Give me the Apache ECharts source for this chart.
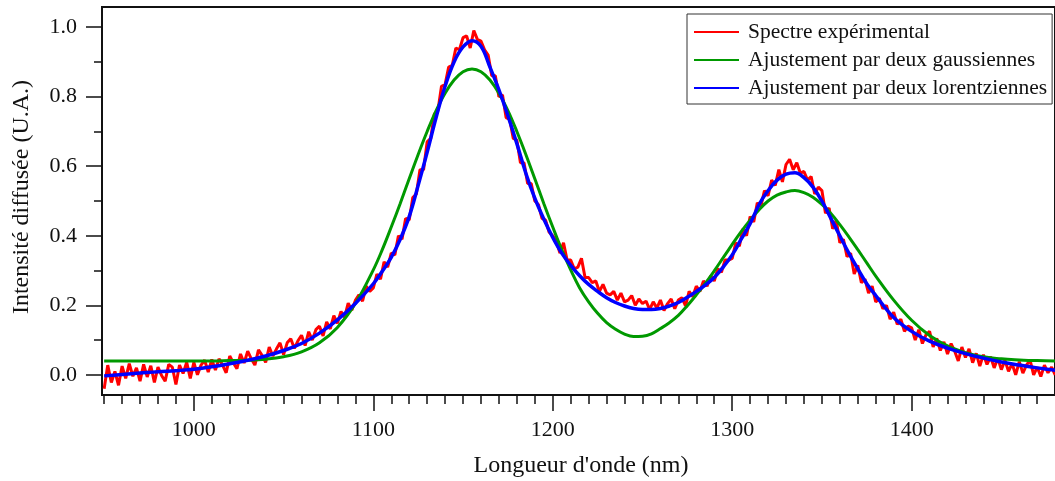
<!DOCTYPE html>
<html>
<head>
<meta charset="utf-8">
<script src="https://cdn.jsdelivr.net/npm/echarts@6/dist/echarts.min.js"></script>
<style>
  html, body { margin: 0; padding: 0; background: #fff; }
  #chart { width: 1055px; height: 481px; }
</style>
</head>
<body>
<div id="chart"></div>
<script>
// ---- Data ----
const seriesNames = ['Spectre expérimental', 'Ajustement par deux gaussiennes', 'Ajustement par deux lorentziennes'];

// Experimental spectrum (wavelength in nm, intensity in a.u.)
const expX = [
 950,952,954,956,958,960,962,964,966,968,970,972,974,976,978,980,982,984,986,988,990,992,994,996,998,
 1000,1002,1004,1006,1008,1010,1012,1014,1016,1018,1020,1022,1024,1026,1028,1030,1032,1034,1036,1038,1040,1042,1044,1046,1048,
 1050,1052,1054,1056,1058,1060,1062,1064,1066,1068,1070,1072,1074,1076,1078,1080,1082,1084,1086,1088,1090,1092,1094,1096,1098,
 1100,1102,1104,1106,1108,1110,1112,1114,1116,1118,1120,1122,1124,1126,1128,1130,1132,1134,1136,1138,1140,1142,1144,1146,1148,
 1150,1152,1154,1156,1158,1160,1162,1164,1166,1168,1170,1172,1174,1176,1178,1180,1182,1184,1186,1188,1190,1192,1194,1196,1198,
 1200,1202,1204,1206,1208,1210,1212,1214,1216,1218,1220,1222,1224,1226,1228,1230,1232,1234,1236,1238,1240,1242,1244,1246,1248,
 1250,1252,1254,1256,1258,1260,1262,1264,1266,1268,1270,1272,1274,1276,1278,1280,1282,1284,1286,1288,1290,1292,1294,1296,1298,
 1300,1302,1304,1306,1308,1310,1312,1314,1316,1318,1320,1322,1324,1326,1328,1330,1332,1334,1336,1338,1340,1342,1344,1346,1348,
 1350,1352,1354,1356,1358,1360,1362,1364,1366,1368,1370,1372,1374,1376,1378,1380,1382,1384,1386,1388,1390,1392,1394,1396,1398,
 1400,1402,1404,1406,1408,1410,1412,1414,1416,1418,1420,1422,1424,1426,1428,1430,1432,1434,1436,1438,1440,1442,1444,1446,1448,
 1450,1452,1454,1456,1458,1460,1462,1464,1466,1468,1470,1472,1474,1476,1478,1480
];
const expY = [
 -0.04,0.028,-0.022,0.01,-0.03,0.025,-0.01,0.032,-0.004,0.02,-0.018,0.03,-0.006,0.026,-0.022,0.022,-0.002,-0.018,0.03,0.022,-0.028,0.028,0.004,0.036,-0.01,
 0.036,0.0,0.028,0.042,0.008,0.044,0.014,0.046,0.028,0.006,0.054,0.034,0.018,0.06,0.034,0.068,0.046,0.028,0.072,0.056,0.036,0.08,0.054,0.074,0.092,
 0.058,0.092,0.104,0.076,0.098,0.114,0.084,0.124,0.1,0.13,0.14,0.112,0.152,0.132,0.17,0.148,0.182,0.166,0.206,0.186,0.214,0.23,0.212,0.255,0.24,
 0.25,0.29,0.275,0.325,0.31,0.35,0.345,0.4,0.39,0.45,0.445,0.51,0.52,0.59,0.59,0.67,0.68,0.75,0.76,0.83,0.835,0.885,0.89,0.94,0.935,
 0.97,0.975,0.94,0.99,0.965,0.96,0.935,0.92,0.86,0.86,0.8,0.805,0.74,0.735,0.68,0.675,0.61,0.61,0.55,0.55,0.5,0.49,0.45,0.445,0.41,
 0.40,0.385,0.35,0.38,0.33,0.33,0.305,0.31,0.335,0.28,0.28,0.265,0.27,0.24,0.26,0.235,0.23,0.24,0.215,0.235,0.21,0.215,0.228,0.2,0.218,
 0.205,0.212,0.188,0.21,0.192,0.215,0.185,0.205,0.218,0.19,0.215,0.222,0.198,0.24,0.225,0.255,0.24,0.27,0.255,0.285,0.27,0.305,0.295,0.33,0.33,
 0.335,0.38,0.37,0.42,0.4,0.455,0.44,0.495,0.485,0.53,0.515,0.56,0.545,0.59,0.555,0.605,0.62,0.59,0.61,0.58,0.585,0.56,0.57,0.52,0.54,
 0.53,0.465,0.48,0.42,0.445,0.38,0.39,0.34,0.35,0.29,0.315,0.265,0.275,0.235,0.255,0.21,0.22,0.19,0.2,0.16,0.18,0.145,0.16,0.125,0.14,
 0.135,0.1,0.13,0.09,0.115,0.125,0.08,0.105,0.07,0.095,0.06,0.09,0.068,0.04,0.08,0.05,0.075,0.035,0.062,0.025,0.058,0.03,0.052,0.02,0.048,
 0.015,0.042,0.01,0.032,0.0,0.038,0.005,0.028,0.042,0.0,0.022,-0.005,0.028,0.006,0.022,0.0
];

// Fitted curves (wavelength in nm)
const fitX = [
 950,960,970,980,990,1000,1010,1020,1030,1040,1050,1060,1070,1080,1090,1100,
 1105,1110,1115,1120,1125,1130,1135,1140,1145,1150,1155,1160,1165,1170,1175,1180,1185,1190,1195,1200,
 1205,1210,1215,1220,1225,1230,1235,1240,1245,1250,1255,1260,1265,1270,1275,1280,1285,1290,1295,1300,
 1305,1310,1315,1320,1325,1330,1335,1340,1345,1350,1355,1360,1365,1370,1375,1380,
 1390,1400,1410,1420,1430,1440,1450,1460,1470,1480
];
const gaussY = [
 0.040,0.040,0.040,0.040,0.040,0.040,0.040,0.041,0.042,0.045,0.052,0.066,0.092,0.136,0.205,0.302,
 0.36,0.425,0.493,0.564,0.634,0.70,0.76,0.81,0.848,0.872,0.88,0.872,0.848,0.81,0.76,0.70,0.634,0.564,0.493,0.425,
 0.36,0.302,0.25,0.21,0.177,0.15,0.131,0.117,0.11,0.111,0.118,0.133,0.15,0.171,0.199,0.23,0.263,0.299,0.337,0.375,
 0.412,0.445,0.475,0.50,0.517,0.526,0.53,0.524,0.511,0.49,0.464,0.432,0.397,0.36,0.322,0.284,
 0.215,0.157,0.113,0.083,0.064,0.052,0.046,0.043,0.041,0.040
];
const lorentzY = [
 -0.003,0.001,0.005,0.009,0.012,0.016,0.023,0.032,0.042,0.054,0.07,0.09,0.12,0.158,0.205,0.262,
 0.298,0.338,0.39,0.455,0.545,0.64,0.74,0.83,0.9,0.943,0.961,0.945,0.885,0.82,0.745,0.665,0.58,0.508,0.448,0.395,
 0.35,0.315,0.285,0.26,0.24,0.222,0.208,0.198,0.191,0.188,0.188,0.191,0.198,0.208,0.223,0.24,0.258,0.28,0.31,0.345,
 0.39,0.435,0.49,0.53,0.56,0.577,0.581,0.567,0.54,0.5,0.45,0.4,0.35,0.305,0.262,0.228,
 0.165,0.125,0.097,0.077,0.061,0.048,0.037,0.028,0.02,0.013
];

// Axis ticks
const xMajorTicks = [1000, 1100, 1200, 1300, 1400];
const xMinorTicks = [950,960,970,980,990,1010,1020,1030,1040,1050,1060,1070,1080,1090,1110,1120,1130,1140,1150,1160,1170,1180,1190,1210,1220,1230,1240,1250,1260,1270,1280,1290,1310,1320,1330,1340,1350,1360,1370,1380,1390,1410,1420,1430,1440,1450,1460,1470];
const yMajorTicks = [0, 0.2, 0.4, 0.6, 0.8, 1.0];
const yMinorTicks = [0.1, 0.3, 0.5, 0.7, 0.9];
const xTitle = "Longueur d'onde (nm)";
const yTitle = 'Intensité diffusée (U.A.)';

// ---- Chart ----
const FONT = '"Liberation Serif", "Times New Roman", serif';
const pair = (xs, ys) => xs.map((x, i) => [x, ys[i]]);
const X_MIN = 948.8, X_MAX = 1479.9, Y_MIN = -0.058, Y_MAX = 1.058;

const chart = echarts.init(document.getElementById('chart'), null, { renderer: 'canvas' });
chart.setOption({
  animation: false,
  backgroundColor: '#fff',
  grid: { left: 102, right: -2, top: 7, bottom: 86, show: true, borderColor: '#111', borderWidth: 2, backgroundColor: 'transparent' },
  xAxis: [
    {
      type: 'value', min: X_MIN, max: X_MAX, position: 'bottom',
      axisLine: { show: true, onZero: false, lineStyle: { color: '#111', width: 2 } },
      axisTick: { show: true, inside: false, length: 16, customValues: xMajorTicks, lineStyle: { color: '#111', width: 1.5 } },
      axisLabel: { show: true, customValues: xMajorTicks, margin: 24, color: '#111', fontFamily: FONT, fontSize: 22,
        formatter: v => String(Math.round(v)) },
      splitLine: { show: false }
    },
    {
      type: 'value', min: X_MIN, max: X_MAX, position: 'bottom',
      axisLine: { show: false, onZero: false },
      axisTick: { show: true, inside: false, length: 9, customValues: xMinorTicks, lineStyle: { color: '#111', width: 1.5 } },
      axisLabel: { show: false },
      splitLine: { show: false }
    }
  ],
  yAxis: [
    {
      type: 'value', min: Y_MIN, max: Y_MAX, position: 'left',
      axisLine: { show: true, onZero: false, lineStyle: { color: '#111', width: 2 } },
      axisTick: { show: true, inside: false, length: 16, customValues: yMajorTicks, lineStyle: { color: '#111', width: 1.5 } },
      axisLabel: { show: true, customValues: yMajorTicks, margin: 25, color: '#111', fontFamily: FONT, fontSize: 22,
        formatter: v => Number(v).toFixed(1) },
      splitLine: { show: false }
    },
    {
      type: 'value', min: Y_MIN, max: Y_MAX, position: 'left',
      axisLine: { show: false, onZero: false },
      axisTick: { show: true, inside: false, length: 8, customValues: yMinorTicks, lineStyle: { color: '#111', width: 1.5 } },
      axisLabel: { show: false },
      splitLine: { show: false }
    }
  ],
  legend: {
    orient: 'vertical', left: 687, top: 14,
    backgroundColor: '#fff', borderColor: '#333', borderWidth: 1, borderRadius: 0,
    padding: [7, 5, 5, 7], itemGap: 6,
    icon: 'rect', itemWidth: 45, itemHeight: 2,
    textStyle: { color: '#111', fontFamily: FONT, fontSize: 21.5, lineHeight: 22, padding: [0, 0, 0, 4] },
    data: seriesNames
  },
  graphic: [
    { type: 'text', x: 581, y: 466, silent: true,
      style: { text: xTitle, font: '24px ' + FONT, fill: '#111', align: 'center', verticalAlign: 'middle' } },
    { type: 'text', x: 22, y: 197, rotation: Math.PI / 2, silent: true,
      style: { text: yTitle, font: '24px ' + FONT, fill: '#111', align: 'center', verticalAlign: 'middle' } }
  ],
  series: [
    { name: seriesNames[0], type: 'line', data: pair(expX, expY), showSymbol: false, symbol: 'none',
      lineStyle: { color: '#ff0000', width: 3 }, itemStyle: { color: '#ff0000' }, z: 2 },
    { name: seriesNames[1], type: 'line', data: pair(fitX, gaussY), showSymbol: false, symbol: 'none', smooth: 0.4,
      lineStyle: { color: '#009900', width: 3 }, itemStyle: { color: '#009900' }, z: 3 },
    { name: seriesNames[2], type: 'line', data: pair(fitX, lorentzY), showSymbol: false, symbol: 'none', smooth: 0.4,
      lineStyle: { color: '#0000ff', width: 3.5 }, itemStyle: { color: '#0000ff' }, z: 4 }
  ]
});
</script>
</body>
</html>
